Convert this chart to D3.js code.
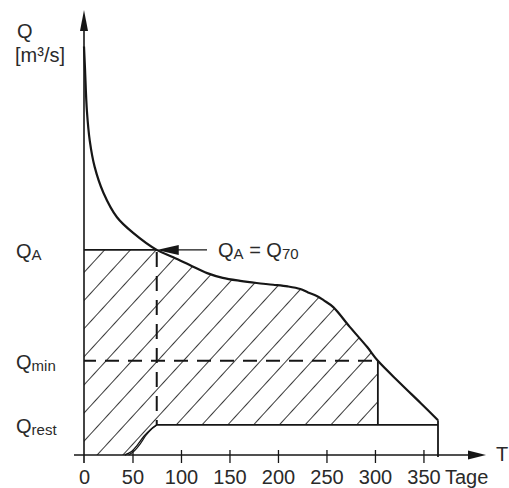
<!DOCTYPE html>
<html>
<head>
<meta charset="utf-8">
<script src="https://cdn.jsdelivr.net/npm/d3@7"></script>
<style>
  html, body { margin: 0; padding: 0; background: #fff; }
  svg { display: block; }
  text { font-family: "Liberation Sans", Arial, Helvetica, sans-serif; fill: #2a2a2a; }
</style>
</head>
<body>
<script>
// ---- data ----
const days = [0, 1, 3, 6, 11, 20, 34, 51, 75, 92, 109, 127, 143, 161, 178, 195, 210, 223, 231, 240, 247, 257, 274, 292, 303, 326, 347, 365];
const flow = [95, 90, 80, 73, 67, 61, 55.3, 51.6, 47.7, 46.0, 44.2, 42.3, 41.2, 40.5, 40.0, 39.6, 39.2, 38.6, 37.8, 37.0, 36.0, 34.4, 29.8, 25.1, 21.9, 16.7, 12.1, 8.1];
const tailDays = [75, 69, 62, 55, 49, 42];
const tailFlow = [7.0, 6.0, 4.4, 2.3, 0.8, 0];
const tail2Days = [75, 70, 64, 58, 52, 46];
const tail2Flow = [7.0, 6.1, 4.6, 2.6, 1.0, 0];
const xTicks = [0, 50, 100, 150, 200, 250, 300, 350];
const levelNames = ["A", "min", "rest"];
const levelValues = [47.7, 21.9, 7.0];
const dayA = 75, dayMin = 303, dayEnd = 365;

const W = 509, H = 488;
const svg = d3.select("body").append("svg").attr("width", W).attr("height", H);

const x = d3.scaleLinear().domain([0, 365]).range([84, 438]);
const y = d3.scaleLinear().domain([0, 100]).range([455, 25]);

const [QA, Qmin, Qrest] = levelValues;
const ink = "#161616";
const smooth = d3.curveCatmullRom.alpha(0.5);

// ---- hatch pattern ----
const defs = svg.append("defs");
const pat = defs.append("pattern").attr("id", "hatch")
  .attr("patternUnits", "userSpaceOnUse").attr("width", 40).attr("height", 19)
  .attr("patternTransform", `translate(${x(0)},${271.7}) rotate(-47.5)`);
pat.append("line").attr("x1", 0).attr("x2", 40).attr("y1", 0.5).attr("y2", 0.5)
  .attr("stroke", "#3a3a3a").attr("stroke-width", 1.1);

// clip: area under the curve
const areaUnder = d3.area().x((d, i) => x(days[i])).y0(y(0)).y1((d) => y(d)).curve(smooth);
defs.append("clipPath").attr("id", "clipCurve").append("path").attr("d", areaUnder(flow));

// clip: region bounds (below QA, left of dayMin, above Qrest right of tail)
const regionPts = [[0, QA], [dayMin, QA], [dayMin, Qrest]];
tailDays.forEach((d, i) => regionPts.push([d, tailFlow[i]]));
regionPts.push([0, 0]);
const linePx = d3.line().x(p => x(p[0])).y(p => y(p[1]));
defs.append("clipPath").attr("id", "clipRegion").append("path").attr("d", linePx(regionPts) + "Z");

svg.append("g").attr("clip-path", "url(#clipRegion)")
  .append("g").attr("clip-path", "url(#clipCurve)")
  .append("rect").attr("x", x(0)).attr("y", y(QA)).attr("width", x(dayMin) - x(0)).attr("height", y(0) - y(QA))
  .attr("fill", "url(#hatch)");

// ---- axes ----
svg.append("line").attr("x1", 74).attr("x2", 470).attr("y1", y(0)).attr("y2", y(0))
  .attr("stroke", ink).attr("stroke-width", 1.6);
svg.append("path").attr("d", `M486,${y(0)} L468,${y(0) - 4.5} L468,${y(0) + 4.5} Z`).attr("fill", ink);
svg.append("line").attr("x1", x(0)).attr("x2", x(0)).attr("y1", 463).attr("y2", 28)
  .attr("stroke", ink).attr("stroke-width", 1.6);
svg.append("path").attr("d", `M${x(0)},10 L${x(0) - 4},31 L${x(0) + 4},31 Z`).attr("fill", ink);

const xAxis = d3.axisBottom(x).tickValues(xTicks).tickFormat(d3.format("d")).tickSizeOuter(0);
const gx = svg.append("g").attr("transform", `translate(0,${y(0)})`).call(xAxis);
gx.select(".domain").remove();
gx.selectAll(".tick line").attr("y1", -5).attr("y2", 8).attr("stroke", ink).attr("stroke-width", 1.3);
gx.selectAll(".tick text").attr("y", 29).attr("dy", 0).attr("font-size", 20)
  .attr("font-family", "'Liberation Sans', Arial, sans-serif").attr("fill", "#2a2a2a");
gx.selectAll(".tick").filter(d => d === 0).select("line").remove();

svg.append("text").attr("x", 445).attr("y", 484).attr("font-size", 20).text("Tage");
svg.append("text").attr("x", 496).attr("y", 461).attr("font-size", 20).text("T");

// y axis title
svg.append("text").attr("x", 17).attr("y", 38).attr("font-size", 20).text("Q");
svg.append("text").attr("x", 15).attr("y", 62).attr("font-size", 20).text("[m³/s]");

// level labels
levelValues.forEach((v, i) => {
  const t = svg.append("text").attr("x", 16).attr("y", y(v) + 8).attr("font-size", 20);
  t.append("tspan").text("Q");
  t.append("tspan").attr("font-size", 15).attr("dy", 2.5).text(levelNames[i]);
});

// ---- lines ----
svg.append("line").attr("x1", x(0)).attr("x2", x(dayA)).attr("y1", y(QA)).attr("y2", y(QA))
  .attr("stroke", ink).attr("stroke-width", 1.6);
svg.append("line").attr("x1", x(dayA) + 16).attr("x2", 207).attr("y1", y(QA)).attr("y2", y(QA))
  .attr("stroke", ink).attr("stroke-width", 1.4);
svg.append("path").attr("d", `M${x(dayA)},${y(QA)} L${x(dayA) + 22},${y(QA) - 5} L${x(dayA) + 22},${y(QA) + 5} Z`).attr("fill", ink);
const lab = svg.append("text").attr("x", 218).attr("y", y(QA) + 7).attr("font-size", 20);
lab.append("tspan").text("Q");
lab.append("tspan").attr("font-size", 15).attr("dy", 2.5).text("A");
lab.append("tspan").attr("dy", -2.5).text(" = Q");
lab.append("tspan").attr("font-size", 15).attr("dy", 2.5).text("70");

svg.append("line").attr("x1", x(dayA)).attr("x2", x(dayA)).attr("y1", y(QA) + 2).attr("y2", y(Qrest))
  .attr("stroke", ink).attr("stroke-width", 2).attr("stroke-dasharray", "15,9");
svg.append("line").attr("x1", x(0)).attr("x2", x(dayMin)).attr("y1", y(Qmin)).attr("y2", y(Qmin))
  .attr("stroke", ink).attr("stroke-width", 2).attr("stroke-dasharray", "14,9").attr("stroke-dashoffset", 2);
svg.append("line").attr("x1", x(dayMin)).attr("x2", x(dayMin)).attr("y1", y(Qmin)).attr("y2", y(Qrest))
  .attr("stroke", ink).attr("stroke-width", 1.8);
svg.append("line").attr("x1", x(dayA)).attr("x2", x(dayEnd)).attr("y1", y(Qrest)).attr("y2", y(Qrest))
  .attr("stroke", ink).attr("stroke-width", 1.8);
svg.append("line").attr("x1", x(dayEnd)).attr("x2", x(dayEnd)).attr("y1", y(flow[flow.length - 1])).attr("y2", y(0) + 2)
  .attr("stroke", ink).attr("stroke-width", 1.8);

const tailLine = d3.line().x(p => x(p[0])).y(p => y(p[1])).curve(d3.curveCatmullRom);
svg.append("path").attr("d", tailLine(tailDays.map((d, i) => [d, tailFlow[i]])))
  .attr("fill", "none").attr("stroke", ink).attr("stroke-width", 1.4);
svg.append("path").attr("d", tailLine(tail2Days.map((d, i) => [d, tail2Flow[i]])))
  .attr("fill", "none").attr("stroke", ink).attr("stroke-width", 1.2);

const curve = d3.line().x((d, i) => x(days[i])).y(d => y(d)).curve(smooth);
svg.append("path").attr("d", curve(flow)).attr("fill", "none").attr("stroke", ink).attr("stroke-width", 2.2);
</script>
</body>
</html>
